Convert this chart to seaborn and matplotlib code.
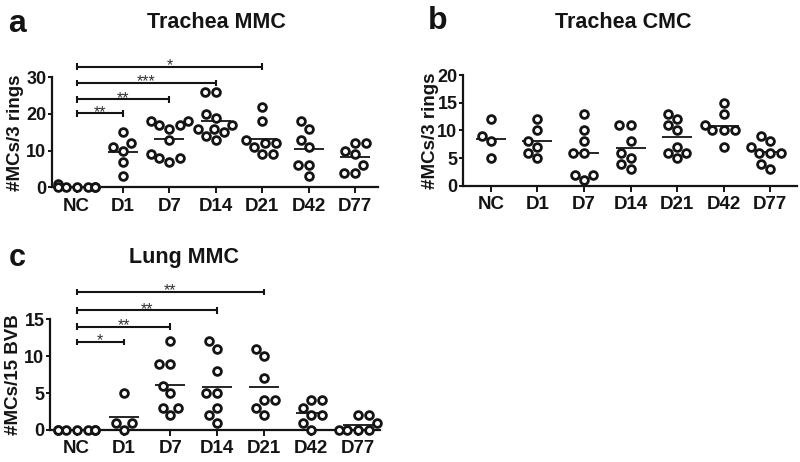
import matplotlib
matplotlib.use("Agg")
import matplotlib.pyplot as plt
import seaborn as sns
import pandas as pd

# ---------------- data ----------------
groups = ["NC", "D1", "D7", "D14", "D21", "D42", "D77"]

trachea_mmc = [
    [1, 0, 0, 0, 0, 0, 0],
    [15, 12, 10, 11, 7, 3],
    [18, 17, 16, 17, 18, 13, 8, 7, 8, 9],
    [26, 26, 19, 20, 16, 15, 16, 17, 13, 14],
    [22, 18, 12, 11, 12, 13, 9, 9],
    [18, 16, 13, 11, 6, 6, 3],
    [12, 12, 10, 9, 6, 4, 4],
]
trachea_cmc = [
    [12, 9, 8, 5],
    [12, 10, 8, 7, 6, 5],
    [13, 10, 8, 6, 6, 2, 2, 1],
    [11, 11, 8, 6, 5, 4, 3],
    [13, 12, 11, 10, 7, 6, 6, 5],
    [15, 13, 11, 10, 10, 10, 7],
    [9, 8, 7, 6, 6, 6, 4, 3],
]
lung_mmc = [
    [0, 0, 0, 0, 0, 0, 0],
    [5, 1, 1, 0],
    [12, 9, 9, 6, 5, 3, 3, 2],
    [12, 11, 8, 5, 5, 3, 2, 1],
    [11, 10, 7, 4, 4, 3, 2],
    [4, 4, 3, 2, 2, 1, 0],
    [2, 2, 1, 0, 0, 0, 0],
]

titles = ["Trachea MMC", "Trachea CMC", "Lung MMC"]
letters = ["a", "b", "c"]
ylabels = ["#MCs/3 rings", "#MCs/3 rings", "#MCs/15 BVB"]

yticks_a = [0, 10, 20, 30]
yticks_b = [0, 5, 10, 15, 20]
yticks_c = [0, 5, 10, 15]

sig_a_targets = [1, 2, 3, 4]
sig_a_heights = [20.2, 24.0, 28.4, 32.9]
sig_a_labels = ["**", "**", "***", "*"]

sig_c_targets = [1, 2, 3, 4]
sig_c_heights = [11.9, 14.0, 16.2, 18.7]
sig_c_labels = ["*", "**", "**", "**"]

# ---------------- style ----------------
sns.set_theme(style="ticks")
plt.rcParams["font.family"] = ["Liberation Sans", "DejaVu Sans"]
INK = "#141414"


def to_frame(values):
    rows = []
    for g, vals in zip(groups, values):
        for v in vals:
            rows.append({"group": g, "value": v})
    return pd.DataFrame(rows)


fig = plt.figure(figsize=(8.0, 4.62), dpi=100)

ax_a = fig.add_axes([0.065, 0.5946, 0.4075, 0.2381])
ax_b = fig.add_axes([0.5788, 0.598, 0.4175, 0.2396])
ax_c = fig.add_axes([0.0625, 0.0693, 0.4125, 0.2396])

panels = [
    (ax_a, trachea_mmc, yticks_a, (-0.53, 6.49), -0.085),
    (ax_b, trachea_cmc, yticks_b, (-0.60, 6.58), -0.072),
    (ax_c, lung_mmc, yticks_c, (-0.57, 6.47), -0.085),
]

for (ax, vals, yt, xl, ylab_x), lab in zip(panels, ylabels):
    df = to_frame(vals)
    sns.swarmplot(data=df, x="group", y="value", order=groups, ax=ax,
                  size=5.6, color="white", edgecolor=INK, linewidth=2.0,
                  warn_thresh=1.0)
    sns.pointplot(data=df, x="group", y="value", order=groups, ax=ax,
                  estimator="mean", errorbar=None, color=INK,
                  marker="_", linestyle="none", markersize=21,
                  markeredgewidth=1.3)
    for c in ax.collections:
        c.set_clip_on(False)
    for ln in ax.lines:
        ln.set_clip_on(False)
    ax.set_xlim(*xl)
    ax.set_ylim(yt[0], yt[-1])
    ax.set_yticks(yt)
    ax.set_xlabel("")
    ax.set_ylabel(lab, fontsize=13.5, fontweight="bold", color=INK, labelpad=0)
    ax.yaxis.set_label_coords(ylab_x, 0.5)
    for s in ["top", "right"]:
        ax.spines[s].set_visible(False)
    for s in ["left", "bottom"]:
        ax.spines[s].set_linewidth(1.6)
        ax.spines[s].set_color(INK)
    ax.tick_params(axis="x", length=4, width=1.4, pad=3.5, colors=INK,
                   labelsize=13.5)
    ax.tick_params(axis="y", length=3, width=1.4, pad=1, colors=INK,
                   labelsize=13)
    for t in ax.get_xticklabels() + ax.get_yticklabels():
        t.set_fontweight("bold")
    ax.set_facecolor("none")


def brackets(ax, targets, heights, labels, cap):
    for tgt, h, lab in zip(targets, heights, labels):
        kw = dict(color=INK, lw=1.5, clip_on=False, solid_capstyle="butt")
        ax.plot([0, tgt], [h, h], **kw)
        ax.plot([0, 0], [h - cap, h + cap], **kw)
        ax.plot([tgt, tgt], [h - cap, h + cap], **kw)
        ax.annotate(lab, xy=((0 + tgt) / 2, h), xytext=(0, -2.5),
                    textcoords="offset points", ha="center", va="baseline",
                    fontsize=11.5, color="#333333", annotation_clip=False)


brackets(ax_a, sig_a_targets, sig_a_heights, sig_a_labels, 0.9)
brackets(ax_c, sig_c_targets, sig_c_heights, sig_c_labels, 0.45)

# titles and panel letters
fig.text(216 / 800, 1 - 22 / 462, titles[0], ha="center", va="center",
         fontsize=15.5, fontweight="bold", color=INK)
fig.text(623 / 800, 1 - 22 / 462, titles[1], ha="center", va="center",
         fontsize=15.5, fontweight="bold", color=INK)
fig.text(184 / 800, 1 - 257 / 462, titles[2], ha="center", va="center",
         fontsize=15.5, fontweight="bold", color=INK)

fig.text(8 / 800, 1 - 24 / 462, letters[0], ha="left", va="center",
         fontsize=23, fontweight="bold", color=INK)
fig.text(428 / 800, 1 - 21 / 462, letters[1], ha="left", va="center",
         fontsize=23, fontweight="bold", color=INK)
fig.text(9 / 800, 1 - 258 / 462, letters[2], ha="left", va="center",
         fontsize=22, fontweight="bold", color=INK)

fig.savefig("out.png", dpi=100, facecolor="white")
